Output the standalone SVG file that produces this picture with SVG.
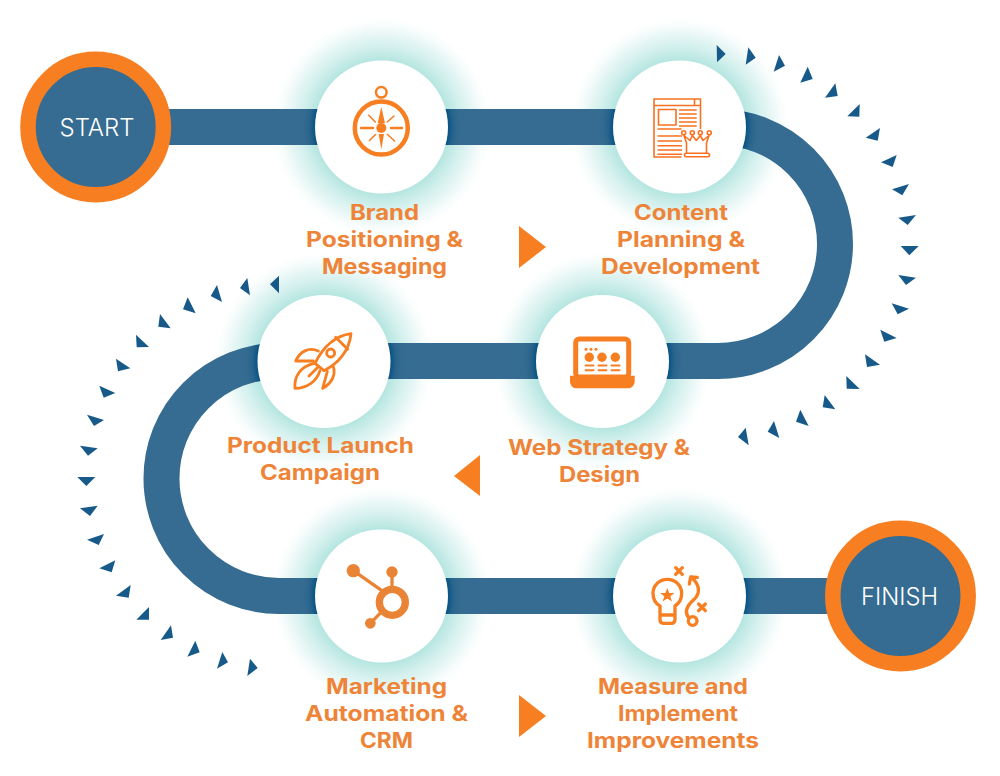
<svg xmlns="http://www.w3.org/2000/svg" width="1000" height="776" viewBox="0 0 1000 776">
<style>
.lab{font-family:"Inter","Liberation Sans",sans-serif;font-weight:700;font-size:21px;fill:#ee8438;text-anchor:middle}
.term{font-family:"Inter","Liberation Sans",sans-serif;font-weight:300;font-size:23.5px;fill:#fff;text-anchor:middle}
.disc{fill:#fff}
.ring{fill:#366c91;stroke:#f77f22;stroke-width:15.5}
.tri{fill:#175a8a}
.big{fill:#f77f22}
.ln{fill:none;stroke:#f77f22;stroke-linecap:round;stroke-linejoin:round}
.np{fill:none;stroke:#f9701f;stroke-width:1.6;stroke-linejoin:round}
.fo{fill:#f77f22}
</style>
<defs>
<radialGradient id="glow"><stop offset="0.59" stop-color="#b4e5e0"/><stop offset="0.72" stop-color="#d3f0ed"/><stop offset="0.86" stop-color="#eef9f8"/><stop offset="1" stop-color="#fff" stop-opacity="0"/></radialGradient>
<radialGradient id="shade"><stop offset="0.82" stop-color="#0a5585" stop-opacity="1"/><stop offset="0.88" stop-color="#1f5f8a" stop-opacity=".6"/><stop offset="1" stop-color="#366c91" stop-opacity="0"/></radialGradient>
<mask id="tm" maskUnits="userSpaceOnUse" x="0" y="0" width="1000" height="776"><path d="M96 127H718A117 117 0 0 1 718 361H279A117.500 117.500 0 0 0 279 596H900" fill="none" stroke="#fff" stroke-width="36"/></mask>
</defs>
<rect width="1000" height="776" fill="#fff"/>
<g id="glows">
<circle cx="381.500" cy="127" r="112" fill="url(#glow)"/>
<circle cx="679.500" cy="127" r="112" fill="url(#glow)"/>
<circle cx="602.500" cy="361.500" r="112" fill="url(#glow)"/>
<circle cx="324" cy="361.500" r="112" fill="url(#glow)"/>
<circle cx="381.500" cy="596" r="112" fill="url(#glow)"/>
<circle cx="679.500" cy="596" r="112" fill="url(#glow)"/>
</g>
<g id="connectors">
<path d="M96 127H718A117 117 0 0 1 718 361H279A117.500 117.500 0 0 0 279 596H900" fill="none" stroke="#366c91" stroke-width="36"/>
<g mask="url(#tm)">
<circle cx="381.500" cy="127" r="82" fill="url(#shade)"/>
<circle cx="679.500" cy="127" r="82" fill="url(#shade)"/>
<circle cx="602.500" cy="361.500" r="82" fill="url(#shade)"/>
<circle cx="324" cy="361.500" r="82" fill="url(#shade)"/>
<circle cx="381.500" cy="596" r="82" fill="url(#shade)"/>
<circle cx="679.500" cy="596" r="82" fill="url(#shade)"/>
</g>
</g>
<g id="ticks-right" class="tri">
<polygon points="716.700,45 725.700,54 717,62.300"/>
<polygon points="748.300,47.300 755.700,57.700 745.700,64.700"/>
<polygon points="779,55 785,65.700 773.700,71.700"/>
<polygon points="807.700,66.700 812.700,79 800.300,82.700"/>
<polygon points="835.300,83.300 837.700,96 825,97.700"/>
<polygon points="859.700,104 859.300,116.700 847.300,116.300"/>
<polygon points="880,128 877.700,140.700 865.700,137.700"/>
<polygon points="896.700,155 892.700,167 881,162.300"/>
<polygon points="909,184 902.300,195.300 892,189.300"/>
<polygon points="916,215 907.700,225 898.300,217.700"/>
<polygon points="918.700,246 909.300,255.300 900.700,246"/>
<polygon points="916,277.700 906,285 898.300,275"/>
<polygon points="909,308.700 897.700,314.300 891.700,303.300"/>
<polygon points="896.700,338 884.300,341.700 880.300,329.700"/>
<polygon points="880,364.700 867,367 865,354.300"/>
<polygon points="859.700,389 846.700,388.700 846.300,376"/>
<polygon points="835.300,409.300 822.700,407.300 824.700,395"/>
<polygon points="808.700,426 796,421.700 800.300,409.700"/>
<polygon points="779.300,438 767.700,431.700 774,421"/>
<polygon points="748.700,445.300 738,437 745.700,427.700"/>
</g>
<g id="ticks-left" class="tri">
<polygon points="279,275.700 270,284.300 279,293.300"/>
<polygon points="247.300,278 240,288 250,295.300"/>
<polygon points="217,285 210.700,296 222,302"/>
<polygon points="187.700,297.300 183,309.300 195.700,313.300"/>
<polygon points="160,314 158.300,326.700 170.700,328.300"/>
<polygon points="136,334.700 136.700,347.300 149,347"/>
<polygon points="116,358.700 118,371.300 130.300,368.300"/>
<polygon points="99.300,385.700 103.700,397.700 115.300,393"/>
<polygon points="87,414.700 94,426 104,420"/>
<polygon points="80,445.700 88,455.700 97.700,448.300"/>
<polygon points="77.300,477 86.300,486 95.300,477"/>
<polygon points="80,508.300 90,516 97.700,505.700"/>
<polygon points="87,539.700 98.700,545 104,534"/>
<polygon points="99.300,568.300 111.700,572.300 115.300,560.300"/>
<polygon points="116,595.700 128.700,597.700 130.700,585"/>
<polygon points="136.300,619.700 149,619.700 149,607"/>
<polygon points="160.700,640 173,637.700 171,625.300"/>
<polygon points="187.300,656.700 199.700,652.300 195.300,640.700"/>
<polygon points="217,668.700 228,662.300 222.300,652"/>
<polygon points="247.300,676 257.700,668 250,658.700"/>
</g>
<g id="direction-arrows">
<polygon class="big" points="519,226 546,247 519,268"/>
<polygon class="big" points="480,455 454,476 480,496"/>
<polygon class="big" points="519,695 546,716 519,737"/>
</g>
<g id="start">
<circle class="ring" cx="95.700" cy="127" r="67.700"/>
<text class="term" x="97" y="136" textLength="75" lengthAdjust="spacingAndGlyphs">START</text>
</g>
<g id="finish">
<circle class="ring" cx="900.500" cy="596" r="67.700"/>
<text class="term" x="899.500" y="605" textLength="77" lengthAdjust="spacingAndGlyphs">FINISH</text>
</g>
<g id="brand">
<circle class="disc" cx="381.500" cy="127" r="66.500"/>
<g class="ln">
<circle cx="381.300" cy="128" r="26.500" stroke-width="4.500"/>
<circle cx="381.300" cy="92.300" r="5.300" stroke-width="2.500"/>
<path d="M361 128H373M391 128H402" stroke-width="2.400"/>
<path d="M368.700 115.300L375.300 122M394 116L387.300 122M369.500 140.500L375.500 134.500M394.500 141L387.500 134.500" stroke-width="1.600"/>
</g>
<circle class="fo" cx="381.300" cy="128" r="5"/>
<polygon class="fo" points="381.300,106.700 385,123.300 377.700,123.300"/>
<polygon class="fo" points="381.300,149.300 384,134 378.700,134"/>
<text class="lab" x="384.500" y="219.600" textLength="69" lengthAdjust="spacingAndGlyphs">Brand</text>
<text class="lab" x="384.500" y="246.600" textLength="157" lengthAdjust="spacingAndGlyphs">Positioning &amp;</text>
<text class="lab" x="384.500" y="273.600" textLength="125" lengthAdjust="spacingAndGlyphs">Messaging</text>
</g>
<g id="content">
<circle class="disc" cx="679.500" cy="127" r="66.500"/>
<path class="np" d="M700.500 129V99H654V157H681.500M654 105.500H700.500M694.500 99V105.500"/>
<rect class="np" x="658.500" y="109.500" width="17.500" height="15.500" stroke-width="2"/>
<path class="np" d="M679 110H696.700M679 114H696.700M679 118H696.700M679 122H696.700M679 126H696.700M657.500 129H681.500M657.500 136H682M657.500 141H682M657.500 145.700H682M657.500 150H682M657.500 154.300H682" stroke-width="1.800"/>
<path class="np" d="M686.500 153V143L684 135.500L690 140.500L692.300 135.500L696.300 140.500L700.300 135.500L703 140.500L709 135.500L706.500 143V153" stroke-width="1.800"/>
<rect class="np" x="684.500" y="153.300" width="25" height="3.500" rx="1.700"/>
<circle class="np" cx="683.700" cy="132.700" r="2"/>
<circle class="np" cx="692.300" cy="132.700" r="2"/>
<circle class="np" cx="700.300" cy="132.700" r="2"/>
<circle class="np" cx="709.300" cy="132.700" r="2"/>
<text class="lab" x="681" y="219.600" textLength="94" lengthAdjust="spacingAndGlyphs">Content</text>
<text class="lab" x="681" y="246.600" textLength="128" lengthAdjust="spacingAndGlyphs">Planning &amp;</text>
<text class="lab" x="680.500" y="273.600" textLength="159" lengthAdjust="spacingAndGlyphs">Development</text>
</g>
<g id="web">
<circle class="disc" cx="602.500" cy="361.500" r="66.500"/>
<rect x="575.700" y="339" width="53" height="38" rx="3.500" fill="none" stroke="#f77f22" stroke-width="5"/>
<path class="fo" d="M570 375.700H595.700L597 377.500H608.500L609.500 375.700H634.700V381C634.700 385 632 388.300 628 388.300H576.500C572.500 388.300 570 385 570 381Z"/>
<circle class="fo" cx="586" cy="349.300" r="1.500"/><circle class="fo" cx="591" cy="349.300" r="1.500"/><circle class="fo" cx="596" cy="349.300" r="1.500"/>
<circle class="fo" cx="589.300" cy="357.300" r="4.700"/><circle class="fo" cx="602" cy="357.300" r="4.700"/><circle class="fo" cx="615.300" cy="357.300" r="4.700"/>
<path class="ln" stroke-width="2" d="M585.500 365.500H593.500M598.500 365.500H606.500M611.500 365.500H619.500M585.500 370.300H593.500M598.500 370.300H606.500M611.500 370.300H619.500"/>
<text class="lab" x="599" y="454.600" textLength="182" lengthAdjust="spacingAndGlyphs">Web Strategy &amp;</text>
<text class="lab" x="599.500" y="481.600" textLength="81" lengthAdjust="spacingAndGlyphs">Design</text>
</g>
<g id="rocket">
<circle class="disc" cx="324" cy="361.500" r="66.500"/>
<g class="ln" stroke-width="8.500" transform="translate(250 300) scale(.3333)">
<path d="M303 101C250 108 215 150 195 190L222 212C262 192 298 155 303 101Z"/>
<path d="M257 112L293 148"/>
<circle cx="242" cy="159" r="12"/>
<path d="M205 153C175 140 150 155 137 183H190"/>
<path d="M250 200C258 225 245 250 218 265L232 214"/>
<path d="M192 190C150 200 132 230 135 265C170 265 200 245 210 212"/>
<path d="M177 228L205 200"/>
</g>
<text class="lab" x="320.500" y="452.600" textLength="187" lengthAdjust="spacingAndGlyphs">Product Launch</text>
<text class="lab" x="320" y="479.600" textLength="120" lengthAdjust="spacingAndGlyphs">Campaign</text>
</g>
<g id="marketing">
<circle class="disc" cx="381.500" cy="596" r="66.500"/>
<g transform="translate(320 540) scale(.3333)" fill="#e98335" stroke="#e98335">
<circle cx="217" cy="187" r="39" fill="none" stroke-width="22"/>
<path d="M100 92L190 155M216 96V150M151 250L185 215" stroke-width="10" fill="none"/>
<circle cx="100" cy="92" r="20" stroke="none"/>
<circle cx="216" cy="96" r="17" stroke="none"/>
<circle cx="151" cy="250" r="16" stroke="none"/>
</g>
<text class="lab" x="386.500" y="693.600" textLength="121" lengthAdjust="spacingAndGlyphs">Marketing</text>
<text class="lab" x="386.500" y="720.600" textLength="163" lengthAdjust="spacingAndGlyphs">Automation &amp;</text>
<text class="lab" x="386.500" y="747.600" textLength="53" lengthAdjust="spacingAndGlyphs">CRM</text>
</g>
<g id="measure">
<circle class="disc" cx="679.500" cy="596" r="66.500"/>
<g class="ln" stroke-width="10" transform="translate(620 540) scale(.3333)">
<path d="M120 198C105 190 99 175 99 160C99 136 118 118 142 118C166 118 185 136 185 160C185 175 178 190 165 198V238C165 246 160 250 155 250H130C124 250 120 246 120 238Z"/>
<path d="M122 225H162"/>
<path d="M167 83L187 103M187 83L167 103M236 192L256 212M256 192L236 212"/>
<circle cx="218" cy="243" r="13"/>
<path d="M214 112C245 140 240 165 215 185C195 205 198 222 205 232"/>
<path d="M208 132L212 111L232 112"/>
</g>
<polygon class="fo" points="667.300,588 669.200,593 674.500,593 670.300,596.300 672,601.500 667.300,598.500 662.600,601.500 664.300,596.300 660,593 665.400,593"/>
<text class="lab" x="673" y="693.600" textLength="150" lengthAdjust="spacingAndGlyphs">Measure and</text>
<text class="lab" x="678" y="720.600" textLength="120" lengthAdjust="spacingAndGlyphs">Implement</text>
<text class="lab" x="673" y="747.600" textLength="172" lengthAdjust="spacingAndGlyphs">Improvements</text>
</g>
</svg>
